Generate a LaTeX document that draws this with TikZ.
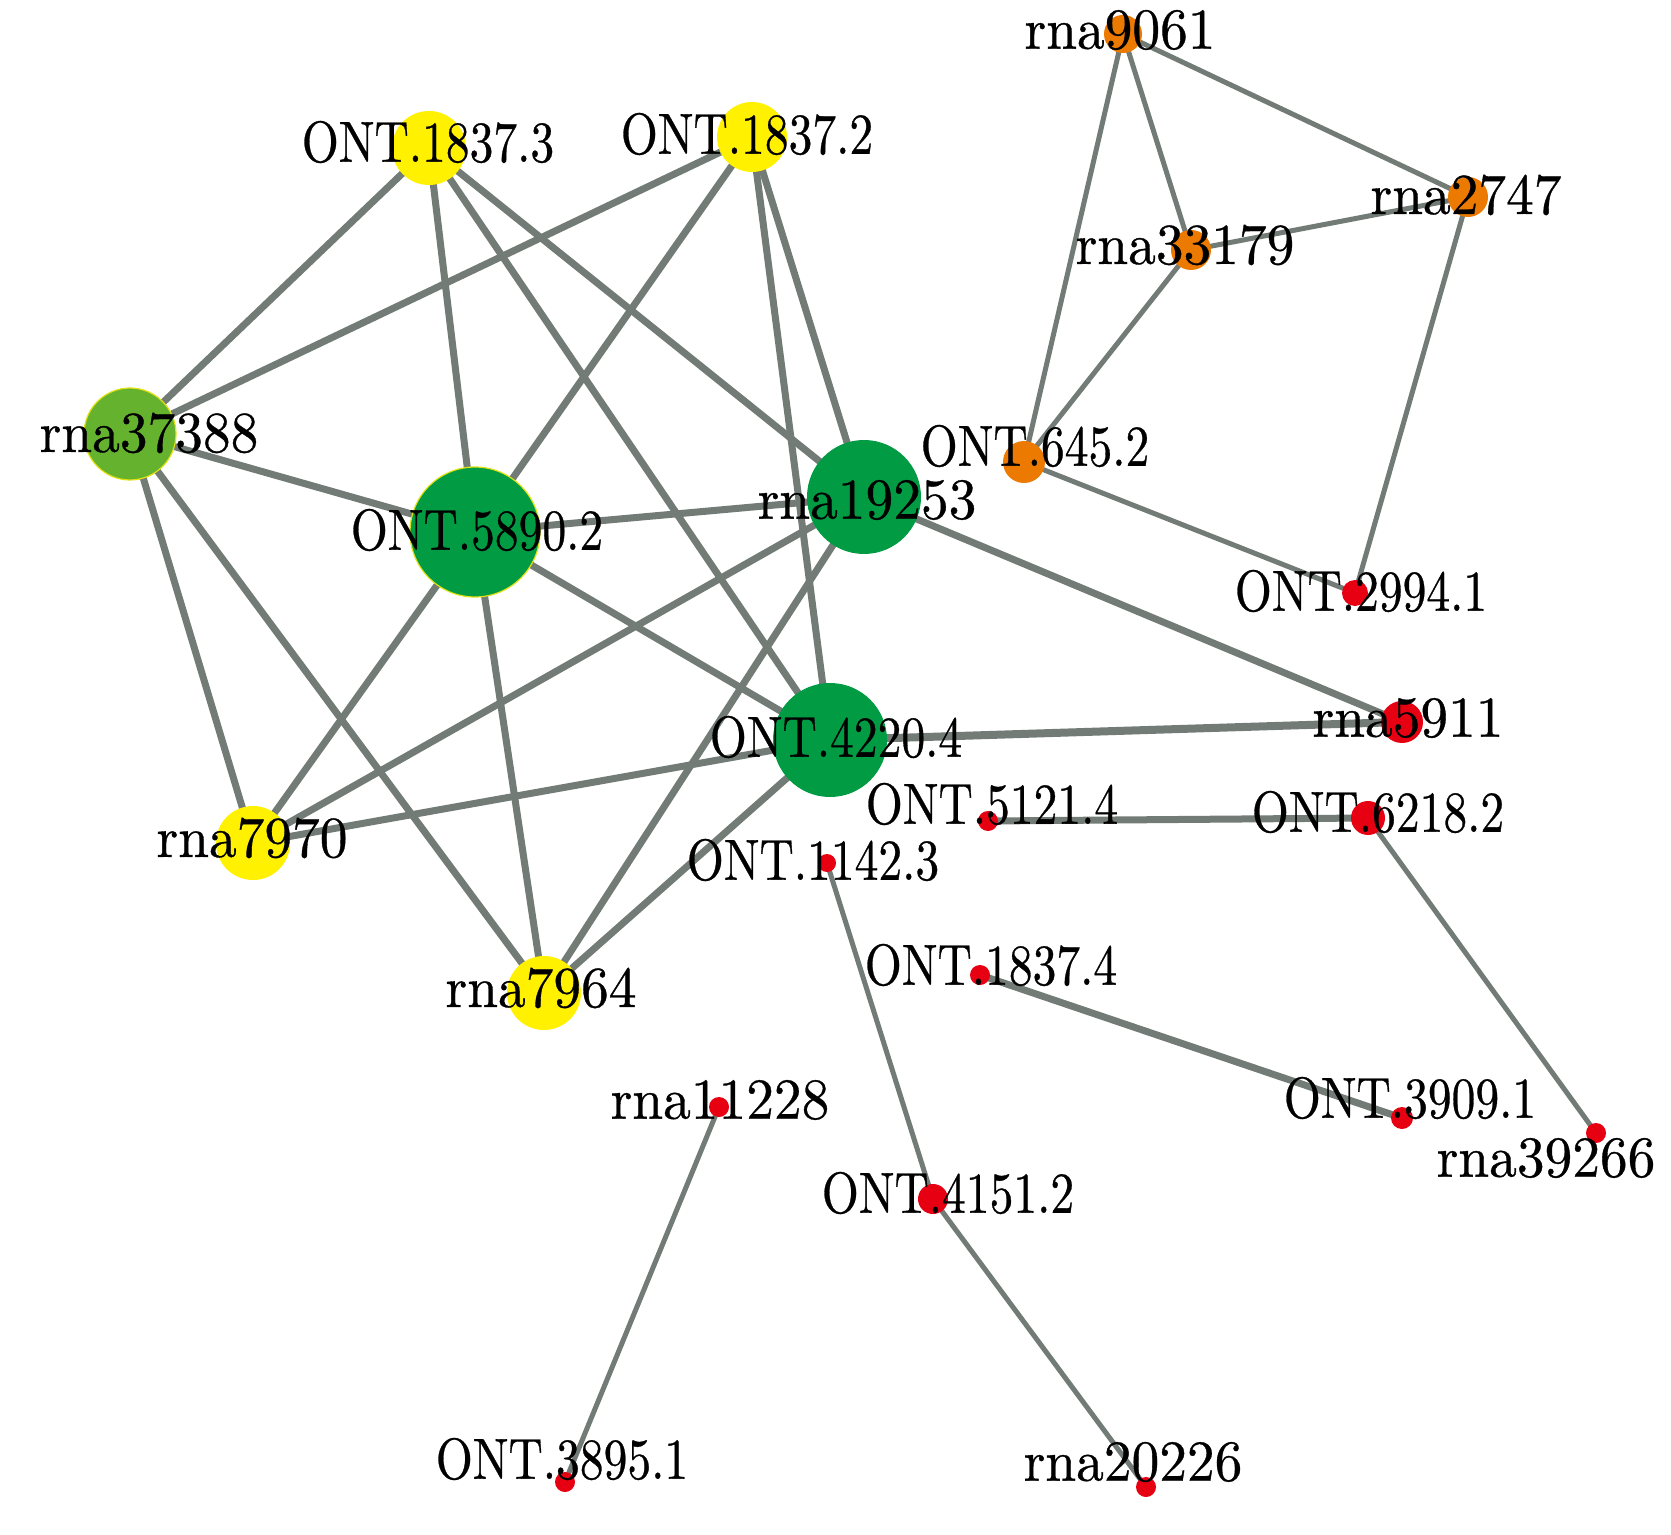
\documentclass[tikz,border=0pt]{standalone}
\usepackage{graphicx}
\usepackage{fontspec}
\newfontfamily\lblfont{lmroman10-regular.otf}[FakeBold=0.6]
\pgfdeclarelayer{bg}
\pgfsetlayers{bg,main}
\definecolor{cyel}{RGB}{255,241,0}
\definecolor{cgrn}{RGB}{0,155,66}
\definecolor{clgr}{RGB}{100,178,46}
\definecolor{corg}{RGB}{236,122,0}
\definecolor{cred}{RGB}{230,0,18}
\definecolor{cedge}{RGB}{114,123,118}
\definecolor{crim}{RGB}{225,225,20}
\newcommand{\ontl}[1]{\scalebox{0.82}[1]{#1}}
\newcommand{\rnal}[1]{\scalebox{0.955}[1]{#1}}
\tikzset{
  nd/.style={circle, fill=#1, inner sep=0pt, outer sep=0pt},
  rim/.style={draw=crim, line width=0.6pt},
  lbl/.style={inner sep=0pt, font=\lblfont\fontsize{29}{31}\selectfont, text=black},
  ethick/.style={draw=cedge, line width=3.5pt},
  emid/.style={draw=cedge, line width=2.5pt}
}
\begin{document}
\begin{tikzpicture}[x=0.5pt, y=-0.5pt]
\useasboundingbox (0,0) rectangle (1671,1535);
% nodes
\node[nd=cyel, minimum size=37pt] (n18373) at (429,148) {};
\node[nd=cyel, minimum size=35pt] (n18372) at (752,137) {};
\node[nd=clgr, rim, minimum size=46pt] (r37388) at (130,434) {};
\node[nd=cgrn, rim, minimum size=65pt] (n58902) at (475,532) {};
\node[nd=cgrn, minimum size=57pt] (r19253) at (864,497) {};
\node[nd=cgrn, minimum size=57pt] (n42204) at (830,740) {};
\node[nd=cyel, minimum size=37pt] (r7970) at (253,843) {};
\node[nd=cyel, minimum size=37pt] (r7964) at (544,993) {};
\node[nd=cred, minimum size=9pt] (n11423) at (827,863) {};
\node[nd=cred, minimum size=10pt] (r11228) at (719,1107) {};
\node[nd=cred, minimum size=10pt] (n38951) at (565,1482) {};
\node[nd=corg, minimum size=19pt] (r9061) at (1123,34) {};
\node[nd=corg, minimum size=20pt] (r2747) at (1468,197) {};
\node[nd=corg, minimum size=20pt] (r33179) at (1191,250) {};
\node[nd=corg, minimum size=21pt] (n6452) at (1024,462) {};
\node[nd=cred, minimum size=13pt] (n29941) at (1355,593) {};
\node[nd=cred, minimum size=21pt] (r5911) at (1402,722) {};
\node[nd=cred, minimum size=10pt] (n51214) at (988,821) {};
\node[nd=cred, minimum size=17pt] (n62182) at (1368,818) {};
\node[nd=cred, minimum size=10pt] (n18374) at (980,975) {};
\node[nd=cred, minimum size=11pt] (n39091) at (1402,1118) {};
\node[nd=cred, minimum size=10pt] (r39266) at (1596,1133) {};
\node[nd=cred, minimum size=15pt] (n41512) at (933,1199) {};
\node[nd=cred, minimum size=10pt] (r20226) at (1146,1487) {};
% edges
\begin{pgfonlayer}{bg}
\draw[ethick] (n18373.center) -- (r37388.center);
\draw[ethick] (n18373.center) -- (n58902.center);
\draw[ethick] (n18373.center) -- (n42204.center);
\draw[ethick] (n18373.center) -- (r19253.center);
\draw[ethick] (n18372.center) -- (r37388.center);
\draw[ethick] (n18372.center) -- (n58902.center);
\draw[ethick] (n18372.center) -- (r19253.center);
\draw[ethick] (n18372.center) -- (n42204.center);
\draw[ethick] (r37388.center) -- (n58902.center);
\draw[ethick] (r37388.center) -- (r7970.center);
\draw[ethick] (r37388.center) -- (r7964.center);
\draw[ethick] (n58902.center) -- (r19253.center);
\draw[ethick] (n58902.center) -- (n42204.center);
\draw[ethick] (n58902.center) -- (r7970.center);
\draw[ethick] (n58902.center) -- (r7964.center);
\draw[ethick] (r19253.center) -- (r7970.center);
\draw[ethick] (r19253.center) -- (r7964.center);
\draw[ethick] (r19253.center) -- (r5911.center);
\draw[ethick] (n42204.center) -- (r7970.center);
\draw[ethick] (n42204.center) -- (r7964.center);
\draw[ethick, line width=4pt] (n42204.center) -- (r5911.center);
\draw[emid] (r9061.center) -- (r2747.center);
\draw[emid] (r9061.center) -- (r33179.center);
\draw[emid] (r9061.center) -- (n6452.center);
\draw[emid] (r33179.center) -- (r2747.center);
\draw[emid] (r33179.center) -- (n6452.center);
\draw[emid] (r2747.center) -- (n29941.center);
\draw[emid] (n6452.center) -- (n29941.center);
\draw[ethick] (n51214.center) -- (n62182.center);
\draw[emid] (n62182.center) -- (r39266.center);
\draw[ethick] (n18374.center) -- (n39091.center);
\draw[emid] (n11423.center) -- (n41512.center);
\draw[emid] (n41512.center) -- (r20226.center);
\draw[emid] (r11228.center) -- (n38951.center);
\end{pgfonlayer}
% labels
\node[lbl] (l18373) at (428,142) {\ontl{ONT.1837.3}};
\node[lbl] (l18372) at (747,134) {\ontl{ONT.1837.2}};
\node[lbl] (l37388) at (149,433) {\rnal{rna37388}};
\node[lbl] (l58902) at (477,530) {\ontl{ONT.5890.2}};
\node[lbl] (l19253) at (867,500) {\rnal{rna19253}};
\node[lbl] (l42204) at (836,737) {\ontl{ONT.4220.4}};
\node[lbl] (l7970) at (252,838) {\rnal{rna7970}};
\node[lbl] (l7964) at (541,988) {\rnal{rna7964}};
\node[lbl] (l11423) at (813,860) {\ontl{ONT.1142.3}};
\node[lbl] (l11228) at (720,1100) {\rnal{rna11228}};
\node[lbl] (l38951) at (562,1459) {\ontl{ONT.3895.1}};
\node[lbl] (l9061) at (1120,30) {\rnal{rna9061}};
\node[lbl] (l2747) at (1466,195) {\rnal{rna2747}};
\node[lbl] (l33179) at (1185,245) {\rnal{rna33179}};
\node[lbl] (l6452) at (1035,446) {\ontl{ONT.645.2}};
\node[lbl] (l29941) at (1361,591) {\ontl{ONT.2994.1}};
\node[lbl] (l5911) at (1408,718) {\rnal{rna5911}};
\node[lbl] (l51214) at (992,804) {\ontl{ONT.5121.4}};
\node[lbl] (l62182) at (1378,812) {\ontl{ONT.6218.2}};
\node[lbl] (l18374) at (991,965) {\ontl{ONT.1837.4}};
\node[lbl] (l39091) at (1410,1098) {\ontl{ONT.3909.1}};
\node[lbl] (l39266) at (1546,1158) {\rnal{rna39266}};
\node[lbl] (l41512) at (948,1193) {\ontl{ONT.4151.2}};
\node[lbl] (l20226) at (1133,1462) {\rnal{rna20226}};
\end{tikzpicture}
\end{document}
